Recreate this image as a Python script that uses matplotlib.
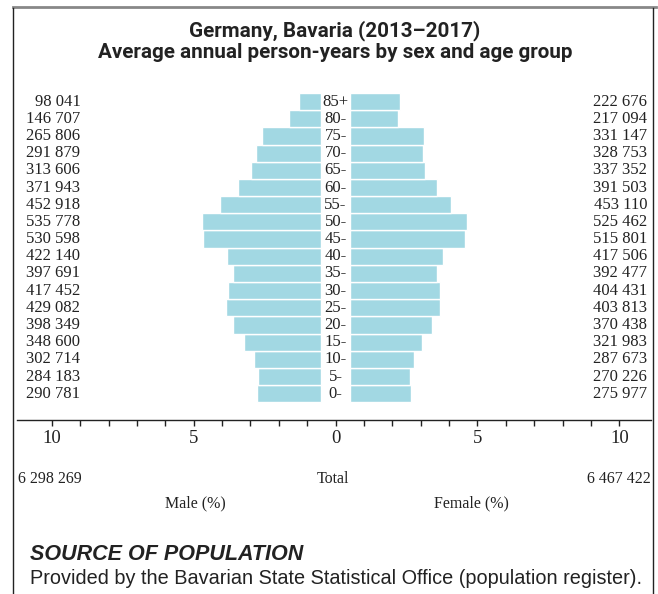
import matplotlib
matplotlib.use("Agg")
import matplotlib.pyplot as plt
from matplotlib.lines import Line2D
import numpy as np

W, H = 658, 594
ages = ["0-", "5-", "10-", "15-", "20-", "25-", "30-", "35-", "40-", "45-",
        "50-", "55-", "60-", "65-", "70-", "75-", "80-", "85+"]
male = [290781, 284183, 302714, 348600, 398349, 429082, 417452, 397691, 422140,
        530598, 535778, 452918, 371943, 313606, 291879, 265806, 146707, 98041]
female = [275977, 270226, 287673, 321983, 370438, 403813, 404431, 392477, 417506,
          515801, 525462, 453110, 391503, 337352, 328753, 331147, 217094, 222676]
male_total = 6298269
female_total = 6467422
title = "Germany, Bavaria (2013–2017)\nAverage annual person-years by sex and age group"

BAR = "#a2d8e3"
TXT = "#222222"
SERIF = "Liberation Serif"
SANS = "Roboto"
SANS2 = "Liberation Sans"

def fmt(n):
    return f"{n:,}".replace(",", " ")

fig = plt.figure(figsize=(W / 100, H / 100), dpi=100)

def px(x, y):
    return x / W, 1 - y / H

ax_l, ax_r, ax_t, ax_b = 17, 651, 85, 420
ax = fig.add_axes([ax_l / W, 1 - ax_b / H, (ax_r - ax_l) / W, (ax_b - ax_t) / H])
zero_px, unit = 335.6, 28.37
ax.set_xlim((ax_l - zero_px) / unit, (ax_r - zero_px) / unit)
row = 17.17
ax.set_ylim(-0.5 - (ax_b - 402.3) / row, 17.5 + (93 - ax_t) / row)

grand = male_total + female_total
y = np.arange(len(ages))
mp = np.array(male) / grand * 100
fp = np.array(female) / grand * 100
g = 0.51
ax.barh(y, -mp, left=-g, height=1.0, color=BAR, edgecolor="white", linewidth=1.0)
ax.barh(y, fp, left=g, height=1.0, color=BAR, edgecolor="white", linewidth=1.0)

FS = 12
for i, a in enumerate(ages):
    ax.text(0, i, a, ha="center", va="center", fontsize=FS, family=SERIF, color=TXT)
    ax.text(-9.0, i, fmt(male[i]), ha="right", va="center", fontsize=FS, family=SERIF, color=TXT)
    ax.text(10.98, i, fmt(female[i]), ha="right", va="center", fontsize=FS, family=SERIF, color=TXT)

for s in ["top", "right", "left"]:
    ax.spines[s].set_visible(False)
ax.spines["bottom"].set_color(TXT)
ax.spines["bottom"].set_linewidth(1.0)
ax.set_yticks([])
ax.set_xticks(np.arange(-10, 11, 1))
ax.set_xticklabels([str(abs(t)) if t % 5 == 0 else "" for t in range(-10, 11)],
                   family=SERIF, fontsize=13.5, color=TXT)
ax.tick_params(axis="x", length=4, width=1, color=TXT, pad=3)

fig.text(*px(335, 41), title, ha="center", va="center", fontsize=14.85,
         fontweight="bold", family=SANS, color=TXT, linespacing=1.15)

fig.text(*px(18, 479), fmt(male_total), ha="left", va="center", fontsize=11.5, family=SERIF, color=TXT)
fig.text(*px(333, 479), "Total", ha="center", va="center", fontsize=11.5, family=SERIF, color=TXT)
fig.text(*px(651, 479), fmt(female_total), ha="right", va="center", fontsize=11.5, family=SERIF, color=TXT)
fig.text(*px(195, 503), "Male (%)", ha="center", va="center", fontsize=11.5, family=SERIF, color=TXT)
fig.text(*px(471, 503), "Female (%)", ha="center", va="center", fontsize=11.5, family=SERIF, color=TXT)

fig.text(*px(30, 555), "SOURCE OF POPULATION", ha="left", va="center", fontsize=15.5,
         fontweight="bold", fontstyle="italic", family=SANS2, color=TXT)
fig.text(*px(30, 578), "Provided by the Bavarian State Statistical Office (population register).",
         ha="left", va="center", fontsize=14.3, family=SANS2, color=TXT)

fig.add_artist(Line2D([13 / W, 656 / W], [1 - 7 / H, 1 - 7 / H], color="#888888", linewidth=2, transform=fig.transFigure))
fig.add_artist(Line2D([13 / W, 13 / W], [1 - 8 / H, 0], color=TXT, linewidth=1, transform=fig.transFigure))
fig.add_artist(Line2D([653 / W, 653 / W], [1 - 8 / H, 0], color=TXT, linewidth=1, transform=fig.transFigure))

fig.savefig("out.png", dpi=100)
